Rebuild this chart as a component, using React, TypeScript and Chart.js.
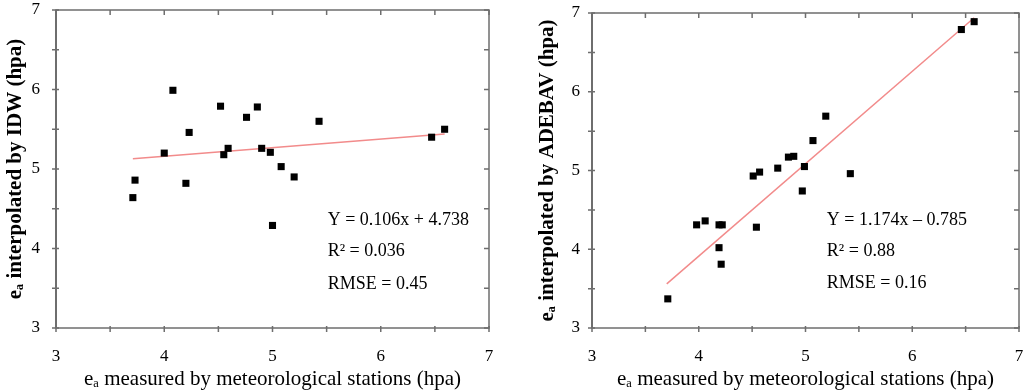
import React, { useEffect, useRef } from "react";
import { Chart, registerables } from "chart.js";

Chart.register(...registerables);

// ---- Data ----
const idwMeasured = [3.71, 3.73, 4.0, 4.08, 4.2, 4.23, 4.52, 4.55, 4.59, 4.76, 4.86, 4.9, 4.98, 5.0, 5.08, 5.2, 5.43, 6.47, 6.59];
const idwInterpolated = [4.64, 4.86, 5.2, 5.99, 4.82, 5.46, 5.79, 5.18, 5.26, 5.65, 5.78, 5.26, 5.21, 4.29, 5.03, 4.9, 5.6, 5.4, 5.5];
const idwFitX = [3.71, 6.59];
const idwFitY = [5.13, 5.44];
const idwLines = ["Y = 0.106x + 4.738", "R² = 0.036", "RMSE = 0.45"];

const adeMeasured = [3.71, 3.98, 4.06, 4.19, 4.22, 4.19, 4.21, 4.51, 4.57, 4.54, 4.74, 4.84, 4.89, 4.99, 4.97, 5.07, 5.19, 5.42, 6.46, 6.58];
const adeInterpolated = [3.37, 4.31, 4.36, 4.31, 4.31, 4.02, 3.81, 4.93, 4.98, 4.28, 5.03, 5.17, 5.18, 5.05, 4.74, 5.38, 5.69, 4.96, 6.79, 6.89];
const adeFitX = [3.7, 6.58];
const adeFitY = [3.56, 6.94];
const adeLines = ["Y = 1.174x – 0.785", "R² = 0.88", "RMSE = 0.16"];

const axisTicks = [3, 4, 5, 6, 7];
const xTitle = "eₐ measured by meteorological stations (hpa)";
const idwYTitle = "eₐ interpolated by IDW (hpa)";
const adeYTitle = "eₐ interpolated by ADEBAV (hpa)";

const FONT = "'Liberation Serif', 'Times New Roman', serif";

type Cfg = {
  xs: number[];
  ys: number[];
  fx: number[];
  fy: number[];
  lines: string[];
  yTitle: string;
  padTop: number;
  padRight: number;
  yAxisWidth: number;
  yLabelPad: number;
  yTitlePad: number;
  textX: number;
  textYs: number[];
};

function makeChart(canvas: HTMLCanvasElement, c: Cfg) {
  const framePlugin = {
    id: "frame",
    afterDraw(chart: any) {
      const { ctx } = chart;
      const { left, right, top, bottom } = chart.chartArea;
      const sx = chart.scales.x;
      const sy = chart.scales.y;
      ctx.save();
      ctx.strokeStyle = "#6e6e6e";
      ctx.lineWidth = 1.5;
      ctx.strokeRect(left, top, right - left, bottom - top);
      ctx.lineWidth = 2;
      ctx.beginPath();
      ctx.moveTo(left, top);
      ctx.lineTo(left, bottom);
      ctx.stroke();
      ctx.lineWidth = 1.5;
      ctx.beginPath();
      sx.ticks.forEach((t: any) => {
        const px = sx.getPixelForValue(t.value);
        ctx.moveTo(px, top);
        ctx.lineTo(px, top + 5);
        ctx.moveTo(px, bottom - 2);
        ctx.lineTo(px, bottom + 4);
      });
      sy.ticks.forEach((t: any) => {
        const py = sy.getPixelForValue(t.value);
        ctx.moveTo(left - 4, py);
        ctx.lineTo(left + 3, py);
        ctx.moveTo(right - 5, py);
        ctx.lineTo(right, py);
      });
      ctx.stroke();
      // annotation text
      ctx.fillStyle = "#000";
      ctx.font = `18px ${FONT}`;
      ctx.textBaseline = "middle";
      ctx.textAlign = "left";
      c.lines.forEach((s, i) => {
        ctx.fillText(s, sx.getPixelForValue(c.textX), sy.getPixelForValue(c.textYs[i]));
      });
      ctx.restore();
    },
  };

  return new Chart(canvas, {
    type: "scatter",
    data: {
      datasets: [
        {
          type: "line",
          data: c.fx.map((x, i) => ({ x, y: c.fy[i] })),
          borderColor: "#f28b8b",
          borderWidth: 1.5,
          pointRadius: 0,
          showLine: true,
          fill: false,
          order: 2,
        } as any,
        {
          data: c.xs.map((x, i) => ({ x, y: c.ys[i] })),
          pointStyle: "rect",
          pointRadius: 5,
          pointBorderWidth: 0,
          backgroundColor: "#000",
          borderColor: "#000",
          order: 1,
        },
      ],
    },
    options: {
      animation: false,
      responsive: false,
      events: [],
      layout: { padding: { top: c.padTop, right: c.padRight, left: 0, bottom: 0 } },
      plugins: { legend: { display: false }, tooltip: { enabled: false } },
      scales: {
        x: {
          type: "linear",
          min: 3,
          max: 7,
          afterFit(scale: any) {
            scale.height = 64;
            scale.paddingLeft = 0;
            scale.paddingRight = 0;
          },
          grid: { display: false, drawTicks: false },
          border: { display: false },
          ticks: {
            stepSize: 0.5,
            padding: 18,
            color: "#000",
            font: { family: FONT, size: 17 },
            callback: (v: any) => (axisTicks.includes(Number(v)) ? String(v) : ""),
            maxRotation: 0,
            autoSkip: false,
          },
          title: {
            display: true,
            text: xTitle,
            color: "#000",
            font: { family: FONT, size: 21 },
            padding: { top: 0, bottom: 0 },
          },
        },
        y: {
          type: "linear",
          min: 3,
          max: 7,
          afterFit(scale: any) {
            scale.width = c.yAxisWidth;
            scale.paddingTop = 0;
            scale.paddingBottom = 0;
          },
          grid: { display: false, drawTicks: false },
          border: { display: false },
          ticks: {
            stepSize: 0.5,
            padding: c.yLabelPad,
            color: "#000",
            font: { family: FONT, size: 17 },
            callback: (v: any) => (axisTicks.includes(Number(v)) ? String(v) : ""),
            autoSkip: false,
          },
          title: {
            display: true,
            text: c.yTitle,
            color: "#000",
            font: { family: FONT, size: 21, weight: "bold" },
            padding: { top: c.yTitlePad, bottom: 0 },
          },
        },
      },
    },
    plugins: [framePlugin],
  } as any);
}

export default function App() {
  const leftRef = useRef<HTMLCanvasElement>(null);
  const rightRef = useRef<HTMLCanvasElement>(null);

  useEffect(() => {
    const a = makeChart(leftRef.current!, {
      xs: idwMeasured,
      ys: idwInterpolated,
      fx: idwFitX,
      fy: idwFitY,
      lines: idwLines,
      yTitle: idwYTitle,
      padTop: 10,
      padRight: 23,
      yAxisWidth: 56,
      yLabelPad: 16,
      yTitlePad: 3,
      textX: 5.51,
      textYs: [4.36, 3.97, 3.55],
    });
    const b = makeChart(rightRef.current!, {
      xs: adeMeasured,
      ys: adeInterpolated,
      fx: adeFitX,
      fy: adeFitY,
      lines: adeLines,
      yTitle: adeYTitle,
      padTop: 13,
      padRight: 5,
      yAxisWidth: 80,
      yLabelPad: 12,
      yTitlePad: 23,
      textX: 5.2,
      textYs: [4.37, 3.98, 3.57],
    });
    return () => {
      a.destroy();
      b.destroy();
    };
  }, []);

  return (
    <div style={{ position: "fixed", left: 0, top: 0, width: 1024, height: 392, background: "#fff" }}>
      <canvas ref={leftRef} width={512} height={392} style={{ position: "absolute", left: 0, top: 0, width: 512, height: 392 }} />
      <canvas ref={rightRef} width={512} height={392} style={{ position: "absolute", left: 512, top: 0, width: 512, height: 392 }} />
    </div>
  );
}
